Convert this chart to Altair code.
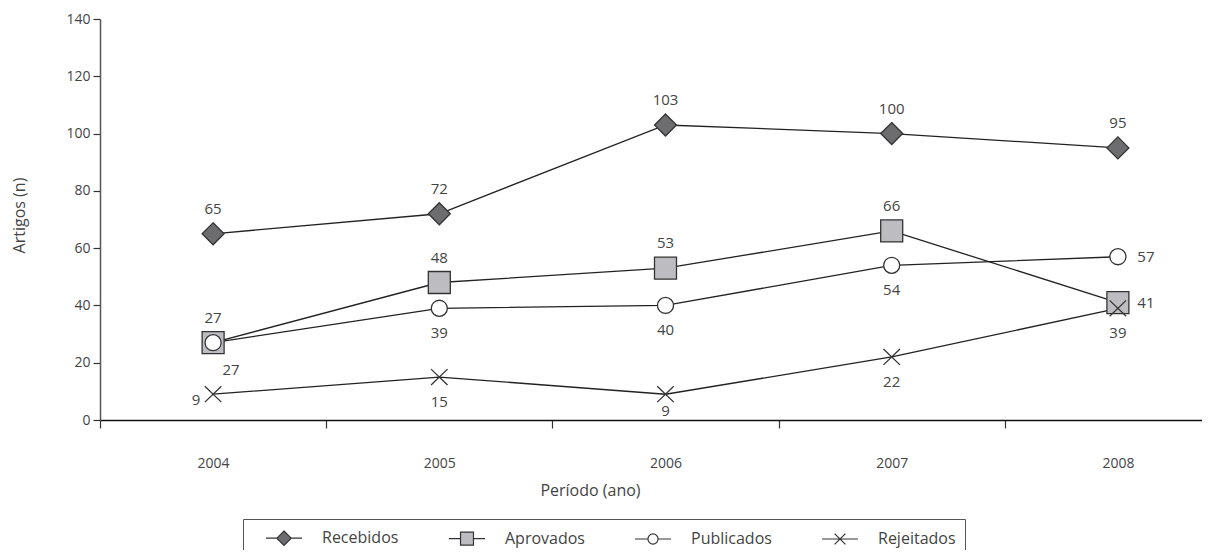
import altair as alt
import pandas as pd

# ---- data ----
anos = [2004, 2005, 2006, 2007, 2008]
series = ["Recebidos", "Aprovados", "Publicados", "Rejeitados"]
recebidos = [65, 72, 103, 100, 95]
aprovados = [27, 48, 53, 66, 41]
publicados = [27, 39, 40, 54, 57]
rejeitados = [9, 15, 9, 22, 39]

# where each value label sits relative to its marker
pos_recebidos = ["acima", "acima", "acima", "acima", "acima"]
pos_aprovados = ["acima", "acima", "acima", "acima", "direita"]
pos_publicados = ["abaixo_direita", "abaixo", "abaixo", "abaixo", "direita"]
pos_rejeitados = ["esquerda", "abaixo", "abaixo_perto", "abaixo", "abaixo"]

y_ticks = [0, 20, 40, 60, 80, 100, 120, 140]

valores = {"Recebidos": recebidos, "Aprovados": aprovados,
           "Publicados": publicados, "Rejeitados": rejeitados}
posicoes = {"Recebidos": pos_recebidos, "Aprovados": pos_aprovados,
            "Publicados": pos_publicados, "Rejeitados": pos_rejeitados}

rows = []
for s in series:
    for a, v, p in zip(anos, valores[s], posicoes[s]):
        rows.append({"ano": a, "serie": s, "valor": v, "pos": p})
df = pd.DataFrame(rows)

# ---- styles ----
FONT = "Open Sans"
TXT = "#444444"
W, H = 1131, 401
PAD_LEFT = 92
SVG_W = 1194  # page width minus the 8px margins


def circle_path(r):
    k = round(0.5523 * r, 3)
    return (f"M{r},0C{r},{k},{k},{r},0,{r}C{-k},{r},{-r},{k},{-r},0"
            f"C{-r},{-k},{-k},{-r},0,{-r}C{k},{-r},{r},{-k},{r},0Z")


marker_paths = [
    "M0,-1L1,0L0,1L-1,0Z",
    "M-1,-1L1,-1L1,1L-1,1Z",
    circle_path(0.73),
    "M-0.75,-0.72L0.75,0.72M-0.75,0.72L0.75,-0.72",
]
legend_paths = [
    "M-2,0L-0.8,0M0,-0.8L0.8,0L0,0.8L-0.8,0ZM0.8,0L2,0",
    "M-2,0L-0.72,0M-0.72,-0.72L0.72,-0.72L0.72,0.72L-0.72,0.72ZM0.72,0L2,0",
    "M-2,0L-0.56,0M0.56,0L2,0" + circle_path(0.56),
    "M-2,0L2,0M-0.6,-0.6L0.6,0.6M-0.6,0.6L0.6,-0.6",
]
fills = ["#6d6d70", "#bdbdc1", "#ffffff", "transparent"]
strokes = ["#333333", "#333333", "#333333", "#333333"]

x_enc = alt.X(
    "ano:O",
    scale=alt.Scale(domain=anos, paddingInner=0, paddingOuter=0),
    title="Período (ano)",
    axis=alt.Axis(
        tickBand="extent", labelAngle=0,
        tickSize=8, tickColor="#333333", tickWidth=1.2,
        domainColor="#111111", domainWidth=1.5,
        labelPadding=28, labelFontSize=14, labelColor=TXT, labelFont=FONT,
        titleFontSize=16, titleFont=FONT, titleColor=TXT, titleFontWeight="normal",
        titlePadding=12, titleX=490, grid=False,
    ),
)
y_enc = alt.Y(
    "valor:Q",
    scale=alt.Scale(domain=[0, 140], nice=False),
    title="Artigos (n)",
    axis=alt.Axis(
        values=y_ticks, tickSize=7, tickColor="#333333", tickWidth=1.2,
        domainColor="#555555", domainWidth=1.5,
        labelPadding=3, labelFontSize=14, labelColor=TXT, labelFont=FONT,
        titleFontSize=16, titleFont=FONT, titleColor=TXT, titleFontWeight="normal",
        titlePadding=38, titleY=196, grid=False,
    ),
)

base = alt.Chart(df)

lines = base.mark_line(color="#222222", strokeWidth=1.3).encode(
    x=x_enc, y=y_enc, detail="serie:N"
)

points = base.mark_point(filled=True, size=484, stroke="#333333", strokeWidth=1.3, opacity=1).encode(
    x=x_enc, y=y_enc,
    shape=alt.Shape("serie:N", scale=alt.Scale(domain=series, range=marker_paths), legend=None),
    fill=alt.Fill("serie:N", scale=alt.Scale(domain=series, range=fills), legend=None),
)

leg = alt.Legend(
    title=None, orient="none", legendX=143, legendY=500, direction="horizontal",
    padding=9, strokeColor="#555555",
    symbolSize=324, symbolStrokeColor="#333333", symbolStrokeWidth=1.2,
    symbolOpacity=1, symbolOffset=22,
    labelOffset=28, columnPadding=36,
    labelFontSize=16, labelColor=TXT, labelFont=FONT,
)
legend_layer = base.mark_point(filled=True, opacity=0, size=324, strokeWidth=1.2).encode(
    x=x_enc, y=y_enc,
    shape=alt.Shape("serie:N", scale=alt.Scale(domain=series, range=legend_paths), legend=leg),
    fill=alt.Fill("serie:N", scale=alt.Scale(domain=series, range=fills), legend=leg),
    stroke=alt.Stroke("serie:N", scale=alt.Scale(domain=series, range=strokes), legend=leg),
)

offsets = {
    "acima": (0, -25),
    "abaixo": (0, 25),
    "abaixo_perto": (0, 17),
    "direita": (28, 0),
    "esquerda": (-17, 6),
    "abaixo_direita": (18, 27),
}
text_layers = []
for p, (dx, dy) in offsets.items():
    text_layers.append(
        base.transform_filter(alt.datum.pos == p)
        .mark_text(dx=dx, dy=dy, font=FONT, fontSize=15, color=TXT,
                   align="center", baseline="middle")
        .encode(x=x_enc, y=y_enc, text="valor:Q")
    )

chart = (
    alt.layer(lines, points, legend_layer, *text_layers)
    .resolve_scale(shape="independent", fill="independent", stroke="independent")
    .properties(
        width=W, height=H,
        autosize=alt.AutoSizeParams(type="none"),
        padding={"left": PAD_LEFT, "top": 11, "right": SVG_W - PAD_LEFT - W, "bottom": 130},
    )
    .configure_view(stroke=None)
)

chart.save("out.html", embed_options={"renderer": "svg", "actions": False})
